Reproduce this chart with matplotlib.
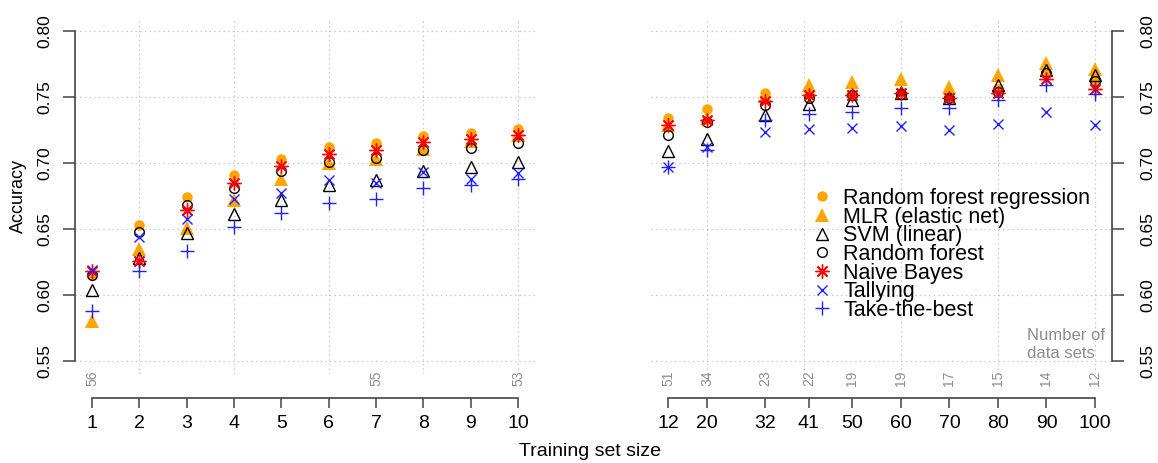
import numpy as np
import matplotlib
matplotlib.use('Agg')
import matplotlib.pyplot as plt
from matplotlib.lines import Line2D
import matplotlib.transforms as mtransforms

plt.rcParams['font.family'] = ['Liberation Sans', 'DejaVu Sans']

# training set sizes
left_sizes  = [1, 2, 3, 4, 5, 6, 7, 8, 9, 10]
right_sizes = [12, 20, 32, 41, 50, 60, 70, 80, 90, 100]

# accuracy per model, small training sets
rf_reg_left = [0.615, 0.653, 0.6745, 0.691, 0.703, 0.712, 0.715, 0.7205, 0.7225, 0.726]
mlr_left    = [0.580, 0.635, 0.6505, 0.672, 0.688, 0.700, 0.703, 0.711, 0.717, 0.721]
svm_left    = [0.604, 0.628, 0.647, 0.661, 0.672, 0.683, 0.687, 0.694, 0.697, 0.701]
rf_left     = [0.615, 0.6475, 0.668, 0.681, 0.694, 0.7005, 0.7035, 0.710, 0.7115, 0.715]
nb_left     = [0.618, 0.626, 0.6645, 0.6845, 0.698, 0.7065, 0.710, 0.716, 0.7185, 0.7215]
tally_left  = [0.619, 0.644, 0.6575, 0.673, 0.6775, 0.6875, 0.6845, 0.6935, 0.688, 0.6925]
ttb_left    = [0.5875, 0.6185, 0.6335, 0.6515, 0.662, 0.6695, 0.673, 0.681, 0.6835, 0.688]

# accuracy per model, larger training sets
rf_reg_right = [0.734, 0.741, 0.753, 0.752, 0.752, 0.754, 0.750, 0.756, 0.768, 0.763]
mlr_right    = [0.729, 0.734, 0.751, 0.759, 0.7615, 0.764, 0.758, 0.7665, 0.7755, 0.7715]
svm_right    = [0.709, 0.718, 0.7365, 0.745, 0.748, 0.753, 0.749, 0.759, 0.7705, 0.7665]
rf_right     = [0.7215, 0.7315, 0.744, 0.7495, 0.7515, 0.7525, 0.749, 0.754, 0.768, 0.7625]
nb_right     = [0.729, 0.7325, 0.747, 0.7515, 0.7515, 0.753, 0.749, 0.7535, 0.764, 0.756]
tally_right  = [0.697, 0.712, 0.7235, 0.7255, 0.7265, 0.728, 0.725, 0.7295, 0.739, 0.729]
ttb_right    = [0.697, 0.710, 0.7325, 0.7375, 0.739, 0.7415, 0.742, 0.7475, 0.759, 0.7525]

# number of data sets
left_count_pos  = [1, 7, 10]
left_counts     = ['56', '55', '53']
right_counts    = ['51', '34', '23', '22', '19', '19', '17', '15', '14', '12']

model_names = ['Random forest regression', 'MLR (elastic net)', 'SVM (linear)',
               'Random forest', 'Naive Bayes', 'Tallying', 'Take-the-best']
left_data  = [rf_reg_left, mlr_left, svm_left, rf_left, nb_left, tally_left, ttb_left]
right_data = [rf_reg_right, mlr_right, svm_right, rf_right, nb_right, tally_right, ttb_right]

y_ticks = [0.55, 0.60, 0.65, 0.70, 0.75, 0.80]

blue = '#2020ff'
styles = [
    dict(marker='o', ms=7.5, mfc='orange', mec='orange', mew=0),
    dict(marker='^', ms=9.5, mfc='orange', mec='orange', mew=0),
    dict(marker='^', ms=8.5, mfc='none', mec='black', mew=1.0),
    dict(marker='o', ms=7, mfc='none', mec='black', mew=1.0),
    dict(marker=(8, 2, 0), ms=10, mfc='none', mec='red', mew=1.0),
    dict(marker='x', ms=7.5, mfc='none', mec=blue, mew=1.0),
    dict(marker='+', ms=10.5, mfc='none', mec=blue, mew=1.0),
]

grid_kw = dict(color='#c8c8c8', lw=0.9, ls=(0, (1.2, 2.5)), zorder=0)
axis_col = '#444444'
count_col = '#8c8c8c'

fig = plt.figure(figsize=(11.58, 4.63), dpi=100)
ax1 = fig.add_axes([0.0648, 0.1922, 0.3972, 0.7689])
ax2 = fig.add_axes([0.5622, 0.1922, 0.3981, 0.7689])


def setup(ax, sizes, side, vgrid):
    lo, hi = min(sizes), max(sizes)
    pad = 0.04 * (hi - lo)
    ax.set_xlim(lo - pad, hi + pad)
    ax.set_ylim(0.54, 0.81)
    for g in y_ticks:
        ax.axhline(g, **grid_kw)
    for g in vgrid:
        ax.axvline(g, **grid_kw)
    for s in ax.spines.values():
        s.set_visible(False)
    ax.spines['bottom'].set_visible(True)
    ax.spines['bottom'].set_position(('outward', 17))
    ax.spines['bottom'].set_bounds(lo, hi)
    ax.spines['bottom'].set_color(axis_col)
    ax.spines['bottom'].set_linewidth(1.2)
    ax.spines[side].set_visible(True)
    ax.spines[side].set_bounds(0.55, 0.80)
    ax.spines[side].set_color(axis_col)
    ax.spines[side].set_linewidth(1.2)
    ax.set_xticks(sizes)
    ax.set_xticklabels([str(s) for s in sizes])
    ax.set_yticks(y_ticks)
    ax.set_yticklabels([f'{t:.2f}' for t in y_ticks], rotation=90, va='center')
    ax.tick_params(axis='x', direction='out', length=7.5, width=1.1,
                   color=axis_col, labelsize=14, pad=5)
    if side == 'right':
        ax.yaxis.tick_right()
        ax.tick_params(axis='y', direction='out', length=8.5, width=1.1,
                       color=axis_col, labelsize=12.5, pad=12,
                       left=False, labelleft=False, right=True, labelright=True)
    else:
        ax.tick_params(axis='y', direction='out', length=8.5, width=1.1,
                       color=axis_col, labelsize=12.5, pad=8)


setup(ax1, left_sizes, 'left', [2, 4, 6, 8, 10])
setup(ax2, right_sizes, 'right', [20, 40, 60, 80, 100])

for ax, sizes, data in [(ax1, left_sizes, left_data), (ax2, right_sizes, right_data)]:
    for vals, st in zip(data, styles):
        ax.plot(sizes, vals, ls='none', zorder=3, clip_on=False, **st)

# number of data sets just under each panel
for ax, pos, labs in [(ax1, left_count_pos, left_counts), (ax2, right_sizes, right_counts)]:
    tr = mtransforms.blended_transform_factory(ax.transData, ax.transAxes)
    for p, lab in zip(pos, labs):
        ax.text(p, -0.012, lab, transform=tr, rotation=90, ha='center', va='center',
                fontsize=10, color=count_col, clip_on=False)

fig.text(1027 / 1158, 1 - 335 / 463, 'Number of', fontsize=12, color=count_col,
         ha='left', va='center')
fig.text(1027 / 1158, 1 - 353 / 463, 'data sets', fontsize=12, color=count_col,
         ha='left', va='center')

handles = [Line2D([], [], ls='none', **st) for st in styles]
ax2.legend(handles, model_names, loc='upper left',
           bbox_to_anchor=(811 / 1158, 1 - 188 / 463), bbox_transform=fig.transFigure,
           frameon=False, fontsize=15.5, handlelength=1.0, handletextpad=0.5,
           labelspacing=-0.11, borderpad=0, borderaxespad=0)

fig.text(18 / 1158, 1 - 196 / 463, 'Accuracy', rotation=90, fontsize=13,
         ha='center', va='center')
fig.text(590 / 1158, 1 - 452 / 463, 'Training set size', fontsize=14,
         ha='center', va='center')

fig.savefig('out.png', dpi=100)
plt.close(fig)
